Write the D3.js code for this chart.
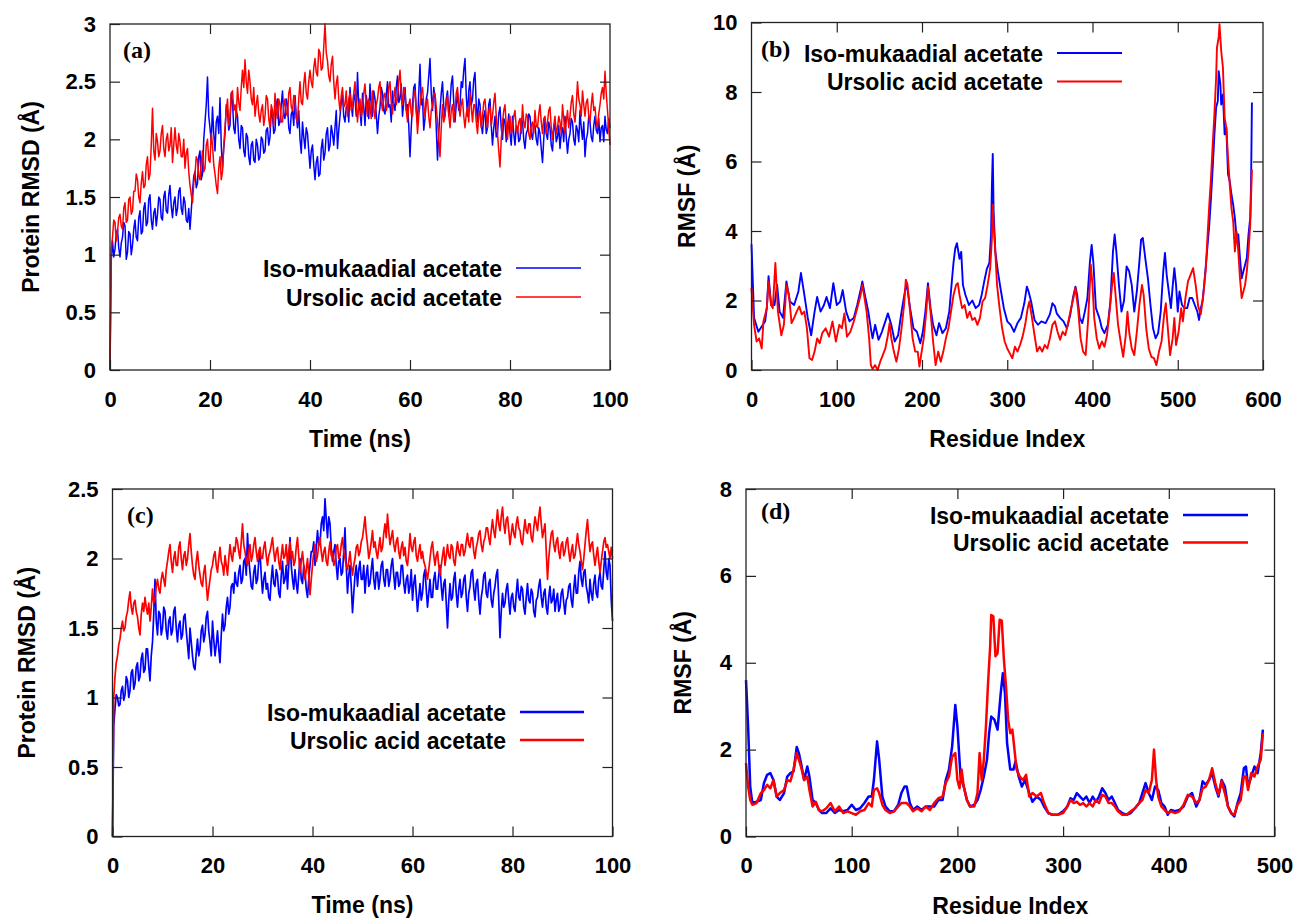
<!DOCTYPE html>
<html>
<head>
<meta charset="utf-8">
<script src="https://cdn.jsdelivr.net/npm/d3@7"></script>
<style>
	body { margin: 0; background: #fff; }
	svg text { font-family: "Liberation Sans", Arial, sans-serif; font-weight: bold; fill: #000; }
	svg text.plab { font-family: "Liberation Serif", "Times New Roman", serif; }
</style>
</head>
<body>
<svg id="fig" width="1296" height="920"></svg>
<script>
const seriesNames = ["Iso-mukaadial acetate", "Ursolic acid acetate"];
const seriesColors = ["#0000ff", "#ff0000"];

// time grid of the RMSD runs (ns)
const timeNs = d3.range(0, 100.001, 0.25);

// (a) protein RMSD, Å
const rmsdA_iso = [
	0, 0.95, 1.12, 0.98, 1.05, 1.18, 1.22, 1.06, 0.98, 1.1, 1.15, 1.28, 1.25, 0.96, 1.02, 1.2, 1.18, 1.0, 1.08, 1.22,
	1.3, 1.15, 1.12, 1.32, 1.38, 1.18, 1.2, 1.4, 1.45, 1.25, 1.28, 1.48, 1.52, 1.3, 1.22, 1.36, 1.4, 1.25, 1.35, 1.5,
	1.48, 1.32, 1.3, 1.5, 1.55, 1.38, 1.36, 1.52, 1.6, 1.42, 1.32, 1.45, 1.5, 1.34, 1.4, 1.55, 1.58, 1.4, 1.35, 1.5,
	1.45, 1.3, 1.28, 1.4, 1.22, 1.38, 1.55, 1.68, 1.72, 1.58, 1.62, 1.85, 1.9, 1.65, 1.7, 2.0, 2.15, 2.3, 2.54, 2.2,
	2.1, 1.98, 2.28, 2.05, 1.9, 2.15, 2.2, 2.05, 2.36, 1.95, 1.75, 1.92, 2.05, 2.3, 2.25, 2.08, 2.12, 2.4, 2.32, 2.1,
	2.05, 2.25, 2.2, 2.0, 1.92, 2.12, 2.1, 1.9, 1.85, 2.05, 2.02, 1.85, 1.78, 1.95, 1.98, 1.82, 1.8, 2.0, 1.95, 1.82,
	1.85, 2.02, 2.0, 1.88, 1.9, 2.08, 2.1, 1.95, 2.02, 2.25, 2.2, 2.05, 2.08, 2.3, 2.35, 2.12, 2.15, 2.3, 2.42, 2.2,
	2.18, 2.35, 2.3, 2.1, 2.05, 2.22, 2.25, 2.12, 2.38, 2.2, 2.1, 2.25, 2.0, 1.88, 2.15, 2.02, 1.92, 2.1, 2.05, 1.9,
	1.75, 1.9, 1.95, 1.78, 1.65, 1.8, 1.85, 1.68, 1.7, 1.92, 2.0, 1.82, 1.88, 2.05, 2.1, 1.9, 1.95, 2.12, 2.05, 1.95,
	2.1, 2.25, 1.92, 2.08, 2.2, 2.32, 2.38, 2.2, 2.15, 2.28, 2.3, 2.15, 2.45, 2.3, 2.2, 2.4, 2.35, 2.2, 2.58, 2.3,
	2.25, 2.12, 2.4, 2.28, 2.12, 2.38, 2.3, 2.18, 2.48, 2.3, 2.2, 2.42, 2.35, 2.22, 2.05, 2.2, 2.28, 2.45, 2.4, 2.25,
	2.22, 2.38, 2.5, 2.28, 2.3, 2.15, 2.42, 2.3, 2.25, 2.45, 2.55, 2.32, 2.35, 2.48, 2.2, 2.32, 2.45, 2.25, 2.3, 2.12,
	1.85, 2.1, 2.3, 2.45, 2.48, 2.25, 2.15, 2.4, 2.65, 2.3, 2.35, 2.08, 2.18, 2.35, 2.4, 2.55, 2.7, 2.4, 2.25, 2.45,
	2.35, 2.1, 1.82, 2.05, 2.25, 2.4, 2.5, 2.28, 2.2, 2.35, 2.42, 2.2, 2.3, 2.48, 2.55, 2.32, 2.15, 2.3, 2.4, 2.25,
	2.3, 2.5, 2.45, 2.6, 2.7, 2.38, 2.2, 2.42, 2.5, 2.3, 2.35, 2.52, 2.58, 2.3, 2.15, 2.35, 2.3, 2.12, 2.05, 2.2,
	2.25, 2.05, 2.1, 2.3, 2.35, 2.12, 1.95, 2.1, 2.2, 2.02, 2.05, 2.22, 2.28, 2.1, 2.0, 2.18, 2.15, 1.98, 2.1, 2.22,
	2.05, 1.95, 2.2, 2.05, 1.95, 2.12, 2.1, 1.98, 2.0, 2.18, 2.15, 2.0, 1.92, 2.05, 2.08, 2.22, 2.2, 2.05, 2.0, 2.12,
	2.12, 2.0, 1.95, 2.1, 2.05, 1.92, 1.8, 2.0, 2.18, 2.05, 2.0, 2.15, 2.1, 1.95, 1.9, 2.08, 2.15, 1.98, 2.02, 2.12,
	1.92, 2.05, 2.1, 1.98, 2.2, 2.02, 1.88, 2.0, 2.05, 2.18, 2.15, 2.0, 1.95, 2.12, 2.08, 1.98, 2.25, 2.1, 2.0, 2.15,
	1.85, 2.0, 2.05, 2.2, 2.15, 2.02, 1.98, 2.12, 2.2, 2.08, 2.05, 2.18, 1.98, 2.1, 2.12, 1.98, 2.2, 2.08, 2.05, 2.18,
	2.1
];
const rmsdA_urs = [
	0, 1.05, 1.15, 1.3, 1.28, 1.12, 1.2, 1.32, 1.35, 1.25, 1.22, 1.4, 1.45, 1.28, 1.3, 1.48, 1.5, 1.35, 1.38, 1.55,
	1.55, 1.7, 1.65, 1.5, 1.45, 1.62, 1.72, 1.58, 1.6, 1.78, 1.85, 1.65, 1.7, 1.95, 2.27, 1.9, 1.82, 2.05, 1.98, 1.85,
	1.9, 2.05, 2.12, 1.92, 1.85, 2.0, 2.05, 1.9, 1.95, 2.1, 1.8, 1.95, 2.1, 1.95, 1.88, 2.05, 1.98, 1.85, 1.85, 2.0,
	1.75, 1.88, 1.92, 1.72, 1.6, 1.52, 1.45, 1.62, 1.7, 1.85, 1.82, 1.68, 1.65, 1.8, 1.9, 1.72, 1.75, 1.95, 2.0, 1.82,
	1.8, 2.05, 1.95, 1.78, 1.7, 1.6, 1.53, 1.75, 1.85, 1.65, 1.72, 1.95, 2.1, 2.25, 2.35, 2.12, 2.2, 2.4, 2.42, 2.25,
	2.3, 2.2, 2.45, 2.32, 2.25, 2.45, 2.6, 2.45, 2.69, 2.5, 2.4, 2.6, 2.5, 2.35, 2.3, 2.45, 2.2, 2.3, 2.38, 2.22,
	2.15, 2.25, 2.3, 2.12, 2.2, 2.38, 2.35, 2.18, 2.1, 2.3, 2.25, 2.12, 2.4, 2.25, 2.18, 2.35, 2.3, 2.15, 2.15, 2.28,
	2.35, 2.22, 2.2, 2.4, 2.45, 2.28, 2.25, 2.38, 2.32, 2.18, 2.15, 2.35, 2.5, 2.32, 2.3, 2.48, 2.58, 2.4, 2.35, 2.5,
	2.6, 2.5, 2.45, 2.62, 2.7, 2.58, 2.55, 2.78, 2.75, 2.6, 2.62, 2.8, 3.0, 2.75, 2.68, 2.55, 2.5, 2.65, 2.72, 2.5,
	2.35, 2.48, 2.55, 2.35, 2.25, 2.38, 2.45, 2.28, 2.3, 2.42, 2.2, 2.35, 2.4, 2.25, 2.28, 2.4, 2.5, 2.3, 2.15, 2.3,
	2.35, 2.2, 2.25, 2.4, 2.48, 2.3, 2.2, 2.35, 2.3, 2.18, 2.42, 2.28, 2.18, 2.3, 2.35, 2.45, 2.5, 2.32, 2.25, 2.38,
	2.4, 2.25, 2.3, 2.45, 2.5, 2.32, 2.22, 2.35, 2.45, 2.3, 2.35, 2.5, 2.6, 2.4, 2.3, 2.45, 2.4, 2.25, 2.15, 2.3,
	2.35, 2.22, 2.2, 2.38, 2.42, 2.25, 2.05, 2.2, 2.3, 2.4, 2.45, 2.3, 2.2, 2.32, 2.35, 2.2, 2.1, 2.25, 2.28, 2.4,
	2.4, 2.28, 2.15, 2.0, 1.85, 2.1, 2.3, 2.15, 2.2, 2.32, 2.38, 2.22, 2.1, 2.25, 2.3, 2.15, 2.25, 2.4, 2.45, 2.3,
	2.2, 2.3, 2.35, 2.2, 2.1, 2.22, 2.28, 2.15, 2.4, 2.28, 2.15, 2.3, 2.3, 2.15, 2.05, 2.2, 2.25, 2.1, 2.2, 2.32,
	2.35, 2.2, 2.1, 2.25, 2.28, 2.12, 2.2, 2.32, 2.4, 2.2, 2.05, 1.9, 1.76, 2.0, 2.15, 2.25, 2.3, 2.12, 2.0, 2.15,
	2.2, 2.05, 2.1, 2.2, 2.25, 2.1, 2.05, 2.15, 2.18, 2.05, 2.3, 2.15, 2.1, 2.22, 2.2, 2.05, 2.0, 2.12, 2.15, 2.05,
	2.25, 2.12, 2.1, 2.22, 2.3, 2.15, 2.05, 2.18, 2.2, 2.05, 2.15, 2.25, 2.28, 2.1, 2.0, 2.12, 2.2, 2.05, 2.1, 2.2,
	2.15, 2.05, 2.3, 2.18, 2.05, 2.15, 2.25, 2.1, 2.2, 2.32, 2.38, 2.22, 2.15, 2.3, 2.5, 2.35, 2.3, 2.2, 2.42, 2.3,
	2.2, 2.32, 2.35, 2.2, 2.15, 2.3, 2.4, 2.25, 2.28, 2.15, 2.1, 2.22, 2.3, 2.4, 2.45, 2.35, 2.59, 2.4, 2.25, 2.1,
	1.95
];

// (c) protein RMSD, Å
const rmsdC_iso = [
	0, 0.8, 0.92, 1.02, 1.0, 0.94, 0.95, 1.05, 1.08, 0.98, 1.02, 1.15, 1.12, 1.0, 1.05, 1.18, 1.2, 1.06, 1.1, 1.22,
	1.25, 1.12, 1.15, 1.28, 1.32, 1.18, 1.2, 1.35, 1.35, 1.22, 1.12, 1.3, 1.4, 1.6, 1.85, 1.55, 1.45, 1.62, 1.6, 1.45,
	1.5, 1.65, 1.62, 1.48, 1.42, 1.55, 1.58, 1.45, 1.48, 1.62, 1.65, 1.5, 1.4, 1.52, 1.55, 1.42, 1.45, 1.58, 1.6, 1.48,
	1.38, 1.28, 1.5, 1.4, 1.3, 1.22, 1.2, 1.32, 1.42, 1.3, 1.35, 1.48, 1.52, 1.4, 1.45, 1.58, 1.62, 1.48, 1.4, 1.3,
	1.55, 1.42, 1.3, 1.38, 1.48, 1.35, 1.25, 1.45, 1.6, 1.48, 1.52, 1.65, 1.72, 1.6, 1.65, 1.8, 1.82, 1.75, 1.9, 1.82,
	1.8, 1.9, 1.95, 1.82, 1.85, 1.98, 2.0, 1.88, 2.18, 2.0, 1.9, 1.8, 1.78, 1.9, 1.95, 1.82, 1.85, 1.98, 2.05, 1.88,
	1.75, 1.85, 1.9, 1.78, 1.82, 1.72, 1.7, 1.85, 1.95, 1.82, 1.8, 1.92, 1.88, 1.75, 1.72, 1.88, 1.98, 1.82, 1.85, 1.95,
	1.78, 1.95, 2.15, 1.95, 1.85, 1.78, 1.92, 1.82, 1.75, 1.88, 2.0, 1.85, 1.82, 1.95, 1.9, 1.78, 1.72, 1.85, 1.95, 2.05,
	2.05, 2.12, 1.95, 2.08, 2.2, 2.1, 2.1, 2.25, 2.3, 2.2, 2.43, 2.28, 2.15, 2.3, 2.25, 2.08, 1.98, 2.05, 2.1, 1.95,
	1.85, 1.98, 2.0, 1.88, 1.9, 2.05, 2.22, 1.95, 1.75, 1.88, 1.95, 1.8, 1.61, 1.75, 1.88, 1.95, 1.8, 1.92, 1.98, 1.85,
	1.85, 1.95, 1.75, 1.88, 1.95, 1.8, 1.82, 1.92, 2.0, 1.85, 1.78, 1.9, 1.9, 1.78, 1.85, 1.95, 1.98, 1.85, 1.8, 1.92,
	1.92, 1.8, 1.85, 1.95, 2.0, 1.88, 1.78, 1.9, 1.9, 1.8, 1.82, 1.95, 1.95, 1.82, 1.75, 1.85, 1.88, 1.75, 1.8, 1.92,
	1.7, 1.82, 1.88, 1.75, 1.62, 1.72, 1.82, 1.7, 1.75, 1.88, 1.92, 1.78, 1.65, 1.75, 1.85, 1.72, 1.72, 1.85, 1.9, 1.78,
	1.78, 1.88, 1.95, 1.8, 1.7, 1.82, 1.85, 1.68, 1.5, 1.7, 1.82, 1.7, 1.72, 1.85, 1.9, 1.75, 1.65, 1.78, 1.85, 1.72,
	1.75, 1.85, 1.88, 1.72, 1.62, 1.75, 1.8, 1.9, 1.92, 1.78, 1.7, 1.82, 1.85, 1.7, 1.6, 1.72, 1.78, 1.88, 1.9, 1.75,
	1.72, 1.82, 1.85, 1.7, 1.65, 1.75, 1.8, 1.88, 1.92, 1.7, 1.43, 1.62, 1.75, 1.65, 1.68, 1.78, 1.82, 1.7, 1.6, 1.72,
	1.75, 1.65, 1.62, 1.75, 1.85, 1.72, 1.7, 1.8, 1.78, 1.65, 1.6, 1.72, 1.82, 1.7, 1.68, 1.78, 1.75, 1.62, 1.58, 1.7,
	1.72, 1.8, 1.85, 1.72, 1.65, 1.75, 1.78, 1.65, 1.6, 1.72, 1.8, 1.68, 1.7, 1.78, 1.62, 1.7, 1.75, 1.62, 1.65, 1.75,
	1.78, 1.68, 1.6, 1.7, 1.72, 1.8, 1.82, 1.7, 1.65, 1.78, 1.88, 1.75, 1.75, 1.9, 1.98, 1.85, 1.8, 1.9, 1.92, 1.8,
	1.75, 1.68, 1.85, 1.75, 1.7, 1.82, 1.88, 1.75, 1.72, 1.85, 1.9, 1.8, 1.78, 1.92, 2.05, 1.9, 1.85, 2.0, 1.95, 1.7,
	1.55
];
const rmsdC_urs = [
	0, 1.0, 1.15, 1.25, 1.3, 1.38, 1.42, 1.5, 1.55, 1.48, 1.5, 1.58, 1.62, 1.7, 1.76, 1.65, 1.6, 1.68, 1.7, 1.62,
	1.58, 1.5, 1.45, 1.6, 1.68, 1.62, 1.72, 1.65, 1.6, 1.68, 1.55, 1.65, 1.78, 1.68, 1.7, 1.8, 1.85, 1.78, 1.75, 1.85,
	1.9, 1.85, 1.8, 1.92, 1.98, 2.05, 2.1, 1.98, 1.9, 2.0, 2.05, 1.95, 1.95, 2.08, 2.12, 2.0, 1.92, 2.02, 2.05, 1.95,
	2.0, 2.1, 2.18, 2.05, 1.95, 1.88, 1.85, 1.98, 2.05, 1.95, 1.88, 1.82, 1.8, 1.9, 1.95, 1.82, 1.7, 1.78, 1.85, 1.92,
	1.95, 2.02, 2.05, 1.95, 1.9, 2.0, 2.08, 1.98, 1.95, 1.88, 2.02, 1.95, 1.88, 2.0, 2.1, 2.02, 1.98, 2.08, 2.05, 2.15,
	2.12, 2.05, 2.0, 2.12, 2.25, 2.1, 2.05, 1.98, 1.95, 2.05, 2.1, 1.98, 2.02, 2.1, 2.15, 2.05, 1.98, 2.05, 2.08, 2.0,
	2.0, 2.08, 2.12, 2.02, 1.95, 2.02, 2.05, 2.1, 2.15, 2.05, 1.98, 2.05, 2.08, 1.98, 1.92, 2.02, 2.1, 2.0, 2.02, 2.1,
	1.95, 2.05, 2.12, 2.0, 2.05, 1.95, 1.98, 2.08, 2.15, 2.02, 1.9, 1.98, 2.05, 1.95, 1.85, 1.92, 2.0, 1.88, 1.74, 1.85,
	1.95, 2.05, 2.1, 1.98, 2.02, 2.1, 2.15, 2.05, 1.98, 2.05, 2.08, 1.98, 1.95, 2.05, 2.12, 2.02, 2.05, 1.95, 1.98, 2.08,
	2.1, 2.0, 2.02, 2.1, 2.15, 2.05, 2.0, 1.95, 1.92, 1.98, 2.05, 1.95, 1.88, 1.95, 2.0, 2.08, 2.1, 2.02, 2.05, 2.12,
	2.15, 2.22, 2.3, 2.18, 2.1, 2.0, 2.05, 2.12, 2.2, 2.08, 2.12, 2.05, 2.0, 2.08, 2.15, 2.05, 2.08, 2.18, 2.25, 2.15,
	2.32, 2.2, 2.1, 2.15, 2.2, 2.1, 2.05, 2.12, 2.15, 2.05, 2.0, 2.08, 2.12, 2.02, 2.08, 1.98, 1.95, 2.05, 2.18, 2.08,
	2.05, 2.12, 2.15, 2.02, 1.98, 2.05, 2.1, 2.0, 2.05, 1.98, 1.95, 1.9, 1.85, 1.92, 2.0, 2.08, 2.12, 2.02, 1.95, 2.02,
	2.05, 1.95, 1.88, 1.95, 2.02, 2.08, 1.95, 2.02, 2.1, 2.02, 2.0, 2.1, 2.08, 1.98, 1.95, 2.05, 2.12, 2.05, 2.02, 2.1,
	2.1, 2.02, 2.05, 2.12, 2.18, 2.1, 2.08, 2.15, 2.15, 2.05, 2.0, 2.08, 2.12, 2.18, 2.2, 2.1, 2.05, 2.12, 2.15, 2.22,
	2.22, 2.15, 2.1, 2.2, 2.28, 2.2, 2.15, 2.25, 2.35, 2.25, 2.2, 2.3, 2.37, 2.25, 2.18, 2.28, 2.3, 2.2, 2.1, 2.18,
	2.25, 2.18, 2.15, 2.25, 2.3, 2.22, 2.2, 2.12, 2.1, 2.2, 2.28, 2.2, 2.18, 2.25, 2.25, 2.15, 2.12, 2.22, 2.3, 2.25,
	2.2, 2.3, 2.37, 2.25, 2.15, 2.2, 2.25, 2.05, 1.85, 2.0, 2.1, 2.18, 2.2, 2.1, 2.05, 2.12, 2.15, 2.05, 2.0, 2.1,
	2.12, 2.02, 2.05, 2.12, 2.15, 2.05, 1.98, 2.05, 2.1, 2.0, 2.02, 2.1, 2.18, 2.1, 2.05, 1.98, 1.92, 2.0, 2.1, 2.2,
	2.28, 2.15, 2.05, 2.1, 2.12, 2.02, 1.95, 2.02, 2.08, 1.98, 1.9, 1.98, 2.05, 2.12, 2.15, 2.08, 2.1, 2.05, 2.0, 2.08,
	2.0
];

// (b) RMSF per residue, [residue, Å]
const rmsfB_iso = [
	[0,3.62],[3,1.5],[8,1.1],[12,1.25],[16,1.4],[18,1.8],[20,2.7],[23,1.87],[27,1.87],[30,2.45],
	[33,1.68],[37,1.5],[41,2.55],[45,1.97],[50,1.87],[55,2.26],[58,2.79],[62,2.16],[66,1.5],[70,1.0],
	[74,1.68],[77,2.1],[81,1.68],[85,1.87],[88,2.1],[92,1.78],[96,2.5],[100,1.87],[104,1.97],[107,2.3],
	[111,1.68],[115,1.4],[120,1.5],[124,1.87],[128,2.3],[130,2.55],[133,2.16],[137,1.68],[140,1.2],[142,0.91],
	[145,1.3],[149,0.87],[153,1.1],[157,1.4],[160,1.63],[164,1.3],[168,0.82],[172,1.0],[176,1.68],[180,2.26],
	[182,2.5],[186,1.78],[190,1.2],[194,1.1],[198,0.77],[201,1.1],[204,1.68],[207,2.5],[210,1.78],[213,1.3],
	[217,1.0],[220,1.35],[224,1.06],[228,1.2],[232,1.68],[235,2.55],[237,3.1],[239,3.5],[241,3.65],[244,3.2],
	[246,3.4],[248,2.45],[251,2.16],[255,1.87],[259,2.0],[263,1.78],[267,1.87],[270,2.16],[273,2.55],[276,2.9],
	[279,3.08],[281,3.9],[282,5.3],[283,6.22],[284,4.57],[286,3.4],[289,2.84],[292,2.36],[296,1.78],[300,1.4],
	[304,1.3],[308,1.1],[312,1.35],[316,1.5],[320,1.92],[323,2.4],[325,2.26],[328,1.97],[332,1.44],[336,1.3],
	[340,1.4],[345,1.35],[350,1.6],[353,1.92],[356,1.83],[358,1.63],[362,1.5],[366,1.4],[370,1.2],[374,1.6],
	[377,2.07],[380,2.4],[382,2.16],[385,1.5],[388,1.35],[391,1.68],[394,2.07],[397,3.12],[399,3.6],[401,3.1],
	[404,1.78],[408,1.5],[411,1.2],[414,1.06],[418,1.3],[421,1.97],[424,3.4],[426,3.9],[428,3.4],[431,2.45],
	[434,1.68],[437,2.0],[440,2.98],[443,2.84],[446,2.45],[449,1.68],[452,2.26],[455,3.12],[457,3.75],[459,3.8],
	[462,3.2],[465,2.64],[468,1.87],[471,1.2],[474,0.91],[477,1.06],[480,1.68],[483,2.84],[485,3.37],[487,2.74],
	[490,2.16],[492,1.78],[494,2.4],[496,2.93],[498,2.45],[500,1.68],[502,2.26],[505,1.87],[508,1.78],[511,1.78],
	[514,2.07],[517,2.07],[520,1.87],[523,1.68],[525,1.44],[527,1.78],[529,1.97],[531,2.45],[533,3.03],[535,3.6],
	[537,4.18],[539,4.95],[541,5.82],[543,6.78],[545,7.55],[547,7.74],[548,8.6],[550,8.22],[551,7.64],[553,7.93],
	[555,6.78],[557,6.97],[559,5.63],[561,5.43],[563,5.05],[565,4.76],[567,4.38],[569,3.8],[571,3.9],[573,3.22],
	[575,2.64],[577,2.84],[579,3.03],[581,3.22],[583,3.9],[585,4.38],[586,5.34],[587,7.7]
];
const rmsfB_urs = [
	[0,2.36],[3,1.3],[6,0.82],[9,0.91],[12,0.62],[14,1.4],[18,1.78],[20,2.55],[23,1.87],[25,1.78],
	[28,3.08],[31,1.68],[35,1.0],[38,1.3],[41,2.45],[44,2.16],[47,1.35],[50,1.5],[53,1.68],[56,1.83],
	[59,1.6],[62,1.68],[65,1.2],[68,0.34],[71,0.29],[74,0.53],[77,0.91],[80,0.77],[83,1.06],[87,1.2],
	[91,0.96],[95,1.4],[99,0.82],[103,1.3],[106,1.2],[109,1.63],[112,0.96],[116,1.1],[120,1.4],[124,1.78],
	[128,2.16],[130,2.45],[132,2.16],[135,1.68],[138,0.91],[140,0.14],[142,0.03],[145,0.14],[148,0.0],[151,0.24],
	[154,0.43],[157,0.62],[160,1.0],[162,1.35],[164,0.91],[167,0.53],[170,0.24],[173,0.62],[176,1.2],[179,1.87],
	[181,2.6],[183,2.45],[186,1.68],[189,0.91],[192,0.53],[195,0.53],[197,0.1],[199,0.43],[202,0.91],[205,1.68],
	[207,2.4],[210,1.68],[213,0.82],[216,0.14],[219,0.53],[222,0.24],[225,0.53],[228,0.91],[231,1.2],[234,1.68],
	[237,2.16],[240,2.45],[242,2.5],[244,2.16],[247,1.78],[250,1.87],[253,1.5],[256,1.68],[259,1.44],[262,1.5],
	[265,1.3],[268,1.5],[271,1.97],[274,2.07],[277,2.45],[280,2.93],[282,3.8],[283,4.76],[284,4.18],[286,3.4],
	[288,2.45],[291,1.78],[294,1.2],[297,0.82],[300,0.62],[303,0.48],[306,0.34],[309,0.67],[312,0.53],[315,0.72],
	[318,0.96],[321,1.3],[324,1.78],[326,1.97],[329,1.5],[332,1.0],[335,0.53],[338,0.67],[341,0.53],[344,0.72],
	[347,0.62],[350,0.91],[353,1.3],[356,1.4],[359,1.1],[362,0.87],[365,1.1],[368,1.0],[371,1.3],[374,1.68],
	[377,2.0],[380,2.36],[383,1.78],[386,0.91],[389,0.53],[392,0.43],[395,1.5],[398,3.03],[400,2.45],[402,1.5],
	[405,0.91],[408,0.62],[411,0.82],[414,0.67],[417,1.0],[420,1.68],[423,2.45],[425,2.79],[427,2.16],[430,1.3],
	[433,0.82],[436,0.38],[439,1.0],[441,1.68],[443,1.1],[446,0.62],[449,0.43],[452,1.1],[455,1.87],[458,2.45],
	[460,2.16],[463,1.2],[466,0.62],[469,0.38],[472,0.34],[475,0.14],[478,0.53],[481,0.82],[484,1.6],[486,1.92],
	[488,1.3],[491,0.43],[494,0.91],[496,1.5],[498,0.72],[501,1.1],[504,1.78],[506,1.4],[509,2.07],[512,2.55],
	[515,2.74],[518,2.93],[521,2.45],[524,1.83],[527,1.6],[530,2.16],[533,2.93],[535,3.9],[537,4.76],[539,5.53],
	[541,6.49],[543,7.36],[545,8.41],[546,9.28],[548,9.57],[549,9.95],[551,9.18],[553,8.7],[555,7.26],[557,6.97],
	[559,6.1],[561,5.34],[563,4.66],[565,4.28],[567,3.41],[569,3.99],[571,3.41],[573,2.64],[575,2.07],[577,2.26],
	[579,2.45],[581,2.84],[583,3.41],[585,4.18],[587,5.77]
];

// (d) RMSF per residue, [residue, Å]
const rmsfD_iso = [
	[0,3.6],[2,2.53],[4,1.15],[6,0.77],[10,0.8],[14,0.84],[17,1.23],[20,1.42],[23,1.46],[26,1.3],
	[29,0.92],[32,0.84],[36,1.0],[39,1.38],[42,1.46],[45,1.5],[48,2.06],[50,1.92],[52,1.7],[55,1.3],
	[58,1.61],[60,1.38],[63,0.84],[66,0.77],[69,0.61],[72,0.54],[76,0.54],[80,0.65],[84,0.54],[88,0.61],
	[92,0.58],[96,0.61],[100,0.73],[104,0.61],[108,0.65],[112,0.77],[116,0.92],[119,0.92],[121,1.3],[124,2.19],
	[126,1.77],[129,0.92],[132,0.69],[136,0.58],[140,0.58],[144,0.73],[147,1.0],[150,1.15],[152,1.15],[155,0.77],
	[158,0.61],[162,0.69],[166,0.61],[170,0.69],[174,0.69],[178,0.69],[182,0.84],[186,0.84],[189,1.3],[192,1.54],
	[195,2.07],[198,3.03],[200,2.53],[203,1.38],[206,1.15],[209,0.84],[212,0.69],[216,0.73],[219,0.84],[222,1.07],
	[225,1.38],[228,1.77],[230,2.38],[232,2.76],[235,2.69],[238,2.46],[241,3.3],[243,3.76],[245,3.3],[247,2.15],
	[250,1.54],[253,1.54],[255,1.73],[258,1.38],[261,1.15],[264,1.3],[268,1.0],[271,0.8],[275,0.92],[279,0.84],
	[282,0.69],[286,0.54],[290,0.5],[295,0.5],[300,0.58],[304,0.69],[307,0.88],[310,0.84],[313,1.0],[316,0.92],
	[319,0.84],[322,0.92],[325,0.77],[328,0.92],[331,0.8],[334,0.92],[337,1.11],[340,1.0],[343,0.84],[346,0.92],
	[349,0.77],[352,0.61],[356,0.54],[360,0.5],[364,0.54],[368,0.65],[372,0.77],[375,1.0],[378,1.23],[381,1.0],
	[384,0.84],[387,1.15],[390,1.07],[393,0.77],[396,0.69],[399,0.5],[402,0.61],[406,0.58],[410,0.61],[414,0.69],
	[418,0.92],[422,1.0],[426,0.69],[429,0.84],[432,1.27],[435,1.19],[438,1.3],[441,1.46],[444,1.15],[447,0.92],
	[450,1.3],[453,1.15],[456,0.69],[459,0.54],[462,0.46],[465,0.77],[468,1.0],[471,1.57],[473,1.61],[475,1.15],
	[478,1.38],[481,1.61],[484,1.46],[487,1.92],[489,2.46]
];
const rmsfD_urs = [
	[0,1.69],[2,1.15],[4,0.84],[6,0.73],[10,0.77],[14,1.0],[17,1.07],[20,1.19],[23,1.11],[26,1.3],
	[29,0.92],[32,1.0],[36,1.07],[39,1.3],[42,1.27],[45,1.54],[48,1.92],[50,1.77],[52,1.61],[55,1.3],
	[58,1.38],[60,1.07],[63,0.69],[66,0.8],[69,0.61],[72,0.58],[76,0.65],[80,0.77],[84,0.58],[88,0.69],
	[92,0.54],[96,0.58],[100,0.54],[104,0.5],[108,0.58],[112,0.61],[116,0.77],[119,0.69],[121,1.07],[124,1.11],
	[126,1.0],[129,0.73],[132,0.61],[136,0.54],[140,0.58],[144,0.69],[147,0.77],[150,0.77],[152,0.77],[155,0.69],
	[158,0.58],[162,0.65],[166,0.58],[170,0.69],[174,0.61],[178,0.77],[182,0.88],[186,0.92],[189,1.23],[192,1.38],
	[195,1.84],[198,1.92],[200,1.3],[202,1.11],[204,1.54],[206,1.15],[209,0.84],[212,0.69],[216,0.69],[219,1.0],
	[221,1.92],[223,1.3],[225,1.77],[227,2.53],[229,3.53],[231,4.38],[232,5.1],[234,5.07],[236,4.15],[238,4.22],
	[240,4.99],[242,4.97],[244,4.07],[246,3.45],[248,2.69],[250,2.38],[252,2.46],[254,2.0],[256,1.54],[259,1.38],
	[262,1.3],[265,1.42],[268,0.92],[271,1.0],[275,0.92],[279,1.0],[282,0.77],[286,0.54],[290,0.5],[295,0.5],
	[300,0.54],[304,0.69],[307,0.84],[310,0.77],[313,0.8],[316,0.73],[319,0.77],[322,0.69],[325,0.77],[328,0.69],
	[331,0.84],[334,0.77],[337,0.96],[340,0.92],[343,0.77],[346,0.77],[349,0.69],[352,0.58],[356,0.5],[360,0.5],
	[364,0.58],[368,0.65],[372,0.77],[375,0.84],[378,1.07],[381,1.0],[384,1.3],[386,2.0],[388,1.3],[390,0.92],
	[393,0.69],[396,0.61],[399,0.54],[402,0.58],[406,0.54],[410,0.58],[414,0.73],[418,0.96],[422,0.92],[426,0.77],
	[429,0.84],[432,1.11],[435,1.15],[438,1.3],[441,1.57],[444,1.23],[447,0.96],[450,1.27],[453,1.0],[456,0.69],
	[459,0.54],[462,0.5],[465,0.73],[468,0.84],[471,1.38],[473,1.38],[475,1.07],[478,1.46],[481,1.38],[484,1.61],
	[487,1.77],[489,2.38]
];

// axis ticks
const timeTicks = [0, 20, 40, 60, 80, 100];
const rmsdTicksA = [0, 0.5, 1, 1.5, 2, 2.5, 3];
const rmsdTicksC = [0, 0.5, 1, 1.5, 2, 2.5];
const resTicksB = [0, 100, 200, 300, 400, 500, 600];
const resTicksD = [0, 100, 200, 300, 400, 500];
const rmsfTicksB = [0, 2, 4, 6, 8, 10];
const rmsfTicksD = [0, 2, 4, 6, 8];

const zipT = ys => ys.map((v, i) => [timeNs[i], v]);

const panels = [
	{ tag: "(a)", box: [110, 610, 24, 370], xd: [0, 100], yd: [0, 3], xt: timeTicks, yt: rmsdTicksA,
	  xTitle: "Time (ns)", yTitle: "Protein RMSD (Å)", lines: [zipT(rmsdA_iso), zipT(rmsdA_urs)], lw: 1.5, legW: 1.7,
	  tagPos: [123, 58], xTitleY: 447, yTitleX: 39,
	  leg: { textEnd: 502, x1: 516, x2: 581, ys: [268, 297] } },
	{ tag: "(b)", box: [751.5, 1263, 22.5, 370], xd: [0, 600], yd: [0, 10], xt: resTicksB, yt: rmsfTicksB,
	  xTitle: "Residue Index", yTitle: "RMSF (Å)", lines: [rmsfB_iso, rmsfB_urs], lw: 1.9, legW: 1.9,
	  tagPos: [761, 57], xTitleY: 447, yTitleX: 695,
	  leg: { textEnd: 1043, x1: 1057, x2: 1122, ys: [53, 81.5] } },
	{ tag: "(c)", box: [112.5, 612.5, 489, 836.5], xd: [0, 100], yd: [0, 2.5], xt: timeTicks, yt: rmsdTicksC,
	  xTitle: "Time (ns)", yTitle: "Protein RMSD (Å)", lines: [zipT(rmsdC_iso), zipT(rmsdC_urs)], lw: 1.7, legW: 2.4,
	  tagPos: [127, 523], xTitleY: 913, yTitleX: 35,
	  leg: { textEnd: 506, x1: 520, x2: 584, ys: [712, 740] } },
	{ tag: "(d)", box: [746, 1274.5, 489, 836.5], xd: [0, 500], yd: [0, 8], xt: resTicksD, yt: rmsfTicksD,
	  xTitle: "Residue Index", yTitle: "RMSF (Å)", lines: [rmsfD_iso, rmsfD_urs], lw: 2.5, legW: 2.5,
	  tagPos: [761, 519], xTitleY: 914, yTitleX: 691,
	  leg: { textEnd: 1169, x1: 1183, x2: 1248, ys: [515, 542.5] } }
];

const svg = d3.select("#fig");
const AX = "#222";

function styleAxis(g) {
	g.select(".domain").remove();
	g.selectAll(".tick line").attr("stroke", AX).attr("stroke-width", 1.2);
	g.selectAll(".tick text").attr("font-size", "22px").attr("fill", "#000")
		.attr("font-family", null);
}

panels.forEach(p => {
	const [L, R, T, B] = p.box;
	const x = d3.scaleLinear().domain(p.xd).range([L, R]);
	const y = d3.scaleLinear().domain(p.yd).range([B, T]);
	const g = svg.append("g");

	// plot lines first, frame on top
	const line = d3.line().x(d => x(d[0])).y(d => y(d[1]));
	p.lines.forEach((data, i) => {
		g.append("path").datum(data)
			.attr("fill", "none")
			.attr("stroke", seriesColors[i])
			.attr("stroke-width", p.lw)
			.attr("stroke-linejoin", "round")
			.attr("d", line);
	});

	// inward ticks on all four sides
	g.append("g").attr("transform", `translate(0, ${B})`)
		.call(d3.axisBottom(x).tickValues(p.xt).tickFormat(d => String(d)).tickSize(-10).tickPadding(21))
		.call(styleAxis);
	g.append("g").attr("transform", `translate(0, ${T})`)
		.call(d3.axisTop(x).tickValues(p.xt.slice(1, -1)).tickFormat("").tickSize(-10))
		.call(styleAxis);
	g.append("g").attr("transform", `translate(${L}, 0)`)
		.call(d3.axisLeft(y).tickValues(p.yt).tickFormat(d => String(d)).tickSize(-10).tickPadding(14))
		.call(styleAxis);
	g.append("g").attr("transform", `translate(${R}, 0)`)
		.call(d3.axisRight(y).tickValues(p.yt.slice(1, -1)).tickFormat("").tickSize(-10))
		.call(styleAxis);

	g.append("rect")
		.attr("x", L).attr("y", T).attr("width", R - L).attr("height", B - T)
		.attr("fill", "none").attr("stroke", AX).attr("stroke-width", 1.3);

	// titles
	g.append("text")
		.attr("x", (L + R) / 2).attr("y", p.xTitleY)
		.attr("text-anchor", "middle").attr("font-size", "23px")
		.text(p.xTitle);
	g.append("text")
		.attr("transform", `translate(${p.yTitleX}, ${(T + B) / 2}) rotate(-90)`)
		.attr("text-anchor", "middle").attr("font-size", "23px")
		.text(p.yTitle);
	g.append("text").attr("class", "plab")
		.attr("x", p.tagPos[0]).attr("y", p.tagPos[1])
		.attr("font-size", "24px")
		.text(p.tag);

	// legend
	seriesNames.forEach((name, i) => {
		const ly = p.leg.ys[i];
		g.append("text")
			.attr("x", p.leg.textEnd).attr("y", ly + 8.5)
			.attr("text-anchor", "end").attr("font-size", "23px")
			.text(name);
		g.append("line")
			.attr("x1", p.leg.x1).attr("x2", p.leg.x2)
			.attr("y1", ly).attr("y2", ly)
			.attr("stroke", seriesColors[i]).attr("stroke-width", p.legW);
	});
});
</script>
</body>
</html>
